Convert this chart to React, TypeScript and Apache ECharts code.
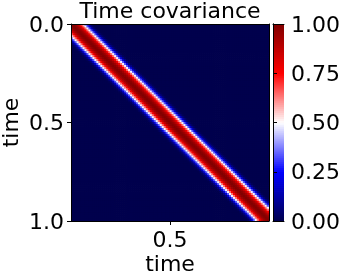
import React, { useEffect, useRef } from "react";
import * as echarts from "echarts";

// Covariance as a function of the lag |t - s| (in grid cells)
const lagProfile = [1.0, 0.98, 0.94, 0.87, 0.77, 0.64, 0.49, 0.33, 0.18, 0.07, 0.015, 0.0];
const gridSize = 100; // number of time samples along each axis
const timeTicks = [0, 0.5, 1];
const xTickValues = [0.5];
const colorbarTicks = [0, 0.25, 0.5, 0.75, 1];
const colorbarLevels = 100;
const seismic = ["#00004d", "#0000ff", "#ffffff", "#ff0000", "#800000"];

const FONT = "DejaVu Sans";
const FS = 22;

export default function App() {
  const ref = useRef<HTMLDivElement>(null);
  useEffect(() => {
    if (!ref.current) return;
    const chart = echarts.init(ref.current, undefined, { renderer: "svg" });

    const idx = Array.from({ length: gridSize }, (_, i) => i);
    const cells: number[][] = [];
    for (let i = 0; i < gridSize; i++) {
      for (let j = 0; j < gridSize; j++) {
        const lag = Math.abs(i - j);
        cells.push([j, i, lag < lagProfile.length ? lagProfile[lag] : 0]);
      }
    }
    const levels = Array.from({ length: colorbarLevels }, (_, k) => k);
    const barCells = levels.map((k) => [0, k, (k + 0.5) / colorbarLevels]);

    const cellRender = (params: any, api: any) => {
      const c = api.coord([api.value(0), api.value(1)]);
      const s = api.size([1, 1]);
      const w = s[0] + 0.8;
      const h = s[1] + 0.8;
      return {
        type: "rect",
        shape: { x: c[0] - w / 2, y: c[1] - h / 2, width: w, height: h },
        style: { fill: api.visual("color") },
      };
    };

    const lineOnly = {
      axisLine: { show: true, lineStyle: { color: "#000", width: 1 } },
      axisTick: { show: false },
      axisLabel: { show: false },
      splitLine: { show: false },
    };

    const main = { left: 71, top: 24, width: 198, height: 197 };
    const bar = { left: 273, top: 24, width: 11, height: 197 };
    const labelStyle = { fontFamily: FONT, fontSize: FS, color: "#000" };

    chart.setOption({
      animation: false,
      title: {
        text: "Time covariance",
        left: "center",
        top: -1,
        padding: 0,
        textStyle: { fontFamily: FONT, fontSize: FS, fontWeight: "normal", color: "#000" },
      },
      visualMap: {
        type: "continuous",
        show: false,
        min: 0,
        max: 1,
        dimension: 2,
        seriesIndex: [0, 1],
        inRange: { color: seismic },
      },
      grid: [
        { ...main, containLabel: false, outerBoundsMode: "none" },
        { ...bar, containLabel: false, outerBoundsMode: "none" },
      ],
      xAxis: [
        { gridIndex: 0, type: "category", data: idx, show: false, position: "bottom" },
        {
          gridIndex: 0,
          type: "value",
          min: 0,
          max: 1,
          interval: 0.5,
          position: "bottom",
          z: 10,
          axisLine: { show: true, lineStyle: { color: "#000", width: 1 } },
          axisTick: { show: true, length: 4, customValues: xTickValues, lineStyle: { color: "#000" } },
          axisLabel: {
            show: true,
            customValues: xTickValues,
            formatter: (v: number) => v.toFixed(1),
            ...labelStyle,
            margin: 7,
          },
          splitLine: { show: false },
          name: "time",
          nameLocation: "middle",
          nameGap: 31,
          nameMoveOverlap: false,
          nameTextStyle: labelStyle,
        },
        { gridIndex: 0, type: "value", min: 0, max: 1, position: "top", z: 10, ...lineOnly },
        { gridIndex: 1, type: "category", data: [0], show: false, position: "bottom" },
        { gridIndex: 1, type: "value", min: 0, max: 1, position: "bottom", z: 10, ...lineOnly },
        { gridIndex: 1, type: "value", min: 0, max: 1, position: "top", z: 10, ...lineOnly },
      ],
      yAxis: [
        { gridIndex: 0, type: "category", data: idx, show: false, inverse: true, position: "left" },
        {
          gridIndex: 0,
          type: "value",
          min: 0,
          max: 1,
          interval: 0.5,
          inverse: true,
          position: "left",
          z: 10,
          axisLine: { show: true, lineStyle: { color: "#000", width: 1 } },
          axisTick: { show: true, length: 4, customValues: timeTicks, lineStyle: { color: "#000" } },
          axisLabel: {
            show: true,
            formatter: (v: number) => v.toFixed(1),
            ...labelStyle,
            margin: 7,
          },
          splitLine: { show: false },
          name: "time",
          nameLocation: "middle",
          nameGap: 50,
          nameMoveOverlap: false,
          nameRotate: 90,
          nameTextStyle: labelStyle,
        },
        { gridIndex: 0, type: "value", min: 0, max: 1, position: "right", z: 10, ...lineOnly },
        { gridIndex: 1, type: "category", data: levels, show: false, position: "left" },
        {
          gridIndex: 1,
          type: "value",
          min: 0,
          max: 1,
          interval: 0.25,
          position: "right",
          z: 10,
          axisLine: { show: true, lineStyle: { color: "#000", width: 1 } },
          axisTick: { show: true, length: 4, customValues: colorbarTicks, lineStyle: { color: "#000" } },
          axisLabel: {
            show: true,
            customValues: colorbarTicks,
            formatter: (v: number) => v.toFixed(2),
            ...labelStyle,
            margin: 7,
          },
          splitLine: { show: false },
        },
        { gridIndex: 1, type: "value", min: 0, max: 1, position: "left", z: 10, ...lineOnly },
      ],
      series: [
        {
          type: "custom",
          xAxisIndex: 0,
          yAxisIndex: 0,
          data: cells,
          encode: { x: 0, y: 1 },
          renderItem: cellRender,
          clip: true,
          progressive: 0,
          silent: true,
        },
        {
          type: "custom",
          xAxisIndex: 3,
          yAxisIndex: 3,
          data: barCells,
          encode: { x: 0, y: 1 },
          renderItem: cellRender,
          clip: true,
          progressive: 0,
          silent: true,
        },
      ],
    });
    return () => chart.dispose();
  }, []);
  return (
    <div
      ref={ref}
      style={{ position: "fixed", left: 0, top: 0, width: 340, height: 274 }}
    />
  );
}
